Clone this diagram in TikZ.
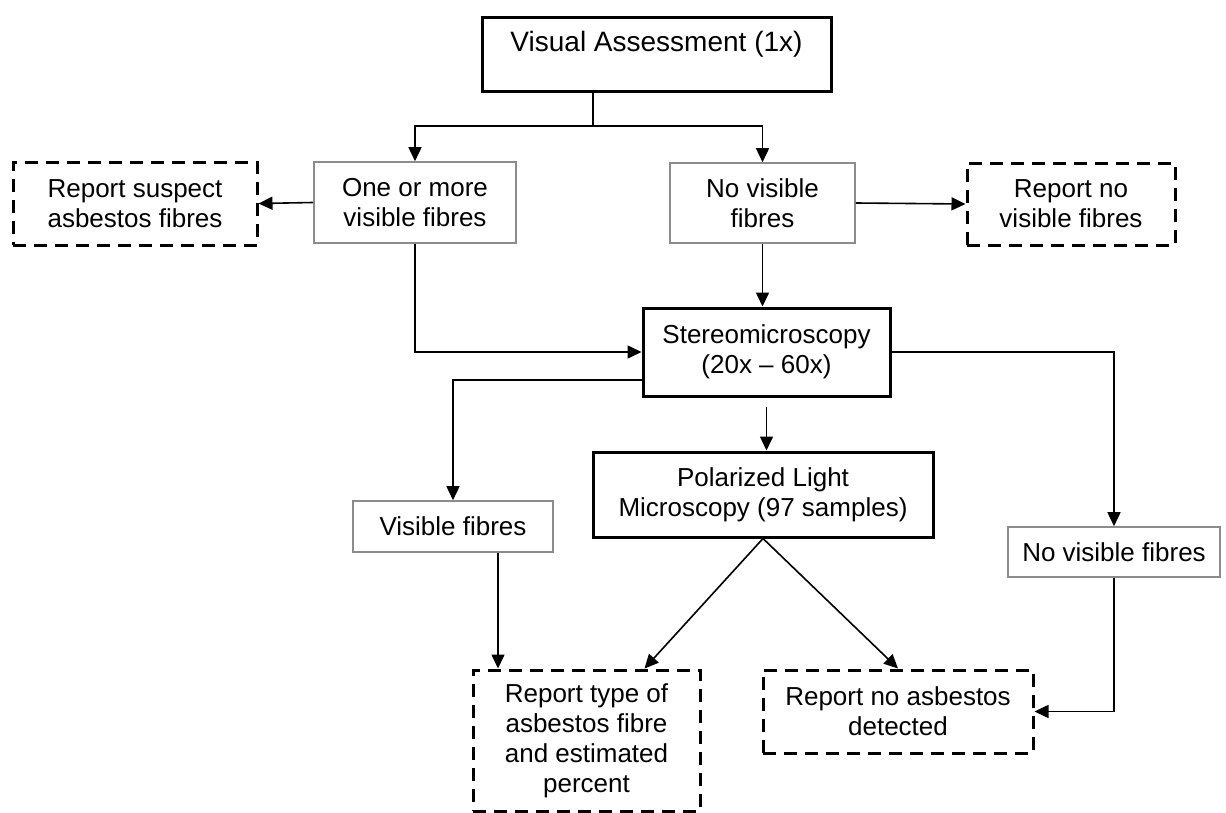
\documentclass[tikz,border=0pt]{standalone}
\usepackage{fontspec}
\setmainfont{Liberation Sans}
\usetikzlibrary{positioning}
\usetikzlibrary{arrows.meta}

\tikzset{
	thickbox/.style={draw, line width=1.5pt, align=center, inner sep=0pt},
	thinbox/.style={draw=black!45, line width=0.8pt, align=center, inner sep=0pt},
	dashbox/.style={draw, line width=1.5pt, dash pattern=on 6.5pt off 4pt, align=center, inner sep=0pt},
	wire/.style={draw, line width=0.8pt},
	flow/.style={wire, -{Triangle[length=7pt,width=6.5pt]}}
}

\begin{document}
\begin{tikzpicture}[x=0.5pt, y=-0.5pt, every node/.style={font=\fontsize{13}{15}\selectfont}]

	\useasboundingbox (0,0) rectangle (1226,813);

	\node[thickbox, minimum width=174.5pt, minimum height=37pt, text depth=14pt, font=\fontsize{14}{16}\selectfont] (visual) at (656.5,55) {Visual Assessment (1x)};
	\node[dashbox, minimum width=122pt, minimum height=41.5pt] (suspect) at (135,203.5) {Report suspect\\asbestos fibres};
	\node[thinbox, minimum width=101pt, minimum height=40.5pt] (onemore) at (415,202.5) {One or more\\visible fibres};
	\node[thinbox, minimum width=92.5pt, minimum height=40pt] (novis) at (762.5,203) {No visible\\fibres};
	\node[dashbox, minimum width=104pt, minimum height=41pt] (repnovis) at (1071,204) {Report no\\visible fibres};
	\node[thickbox, minimum width=123.5pt, minimum height=44pt] (stereo) at (766.5,352) {Stereomicroscopy\\(20x -- 60x)};
	\node[thickbox, minimum width=170pt, minimum height=42.5pt] (plm) at (763,494.5) {Polarized Light\\Microscopy (97 samples)};
	\node[thinbox, minimum width=100pt, minimum height=25.5pt] (visfib) at (453,526.5) {Visible fibres};
	\node[thinbox, minimum width=106pt, minimum height=25pt] (novisb) at (1114,552) {No visible fibres};
	\node[dashbox, minimum width=113.5pt, minimum height=70.5pt] (reptype) at (586.5,740.5) {Report type of\\asbestos fibre\\and estimated\\percent};
	\node[dashbox, minimum width=135pt, minimum height=41.5pt] (repnoasb) at (898,711.5) {Report no asbestos\\detected};

	\coordinate (split) at (593,126);
	\coordinate (vfout) at ([xshift=22.5pt]visfib.south);

	\draw[wire] (visual.south -| split) -- (split);
	\draw[flow] (split) -| (onemore.north);
	\draw[flow] (split) -| (novis.north);
	\draw[flow] (onemore.west) -- (suspect.east);
	\draw[flow] (novis.east) -- (repnovis.west);
	\draw[flow] (novis.south) -- (novis.south |- stereo.north);
	\draw[flow] (onemore.south) |- (stereo.west);
	\draw[flow] ([yshift=-14pt]stereo.west) -| (visfib.north);
	\draw[flow, shorten <=4.5pt] (stereo.south) -- (stereo.south |- plm.north);
	\draw[flow] (stereo.east) -| (novisb.north);
	\draw[flow] (vfout) -- (vfout |- reptype.north);
	\draw[flow] (plm.south) -- ([xshift=29pt]reptype.north);
	\draw[flow] (plm.south) -- (repnoasb.north);
	\draw[flow] (novisb.south) |- (repnoasb.east);

\end{tikzpicture}
\end{document}
